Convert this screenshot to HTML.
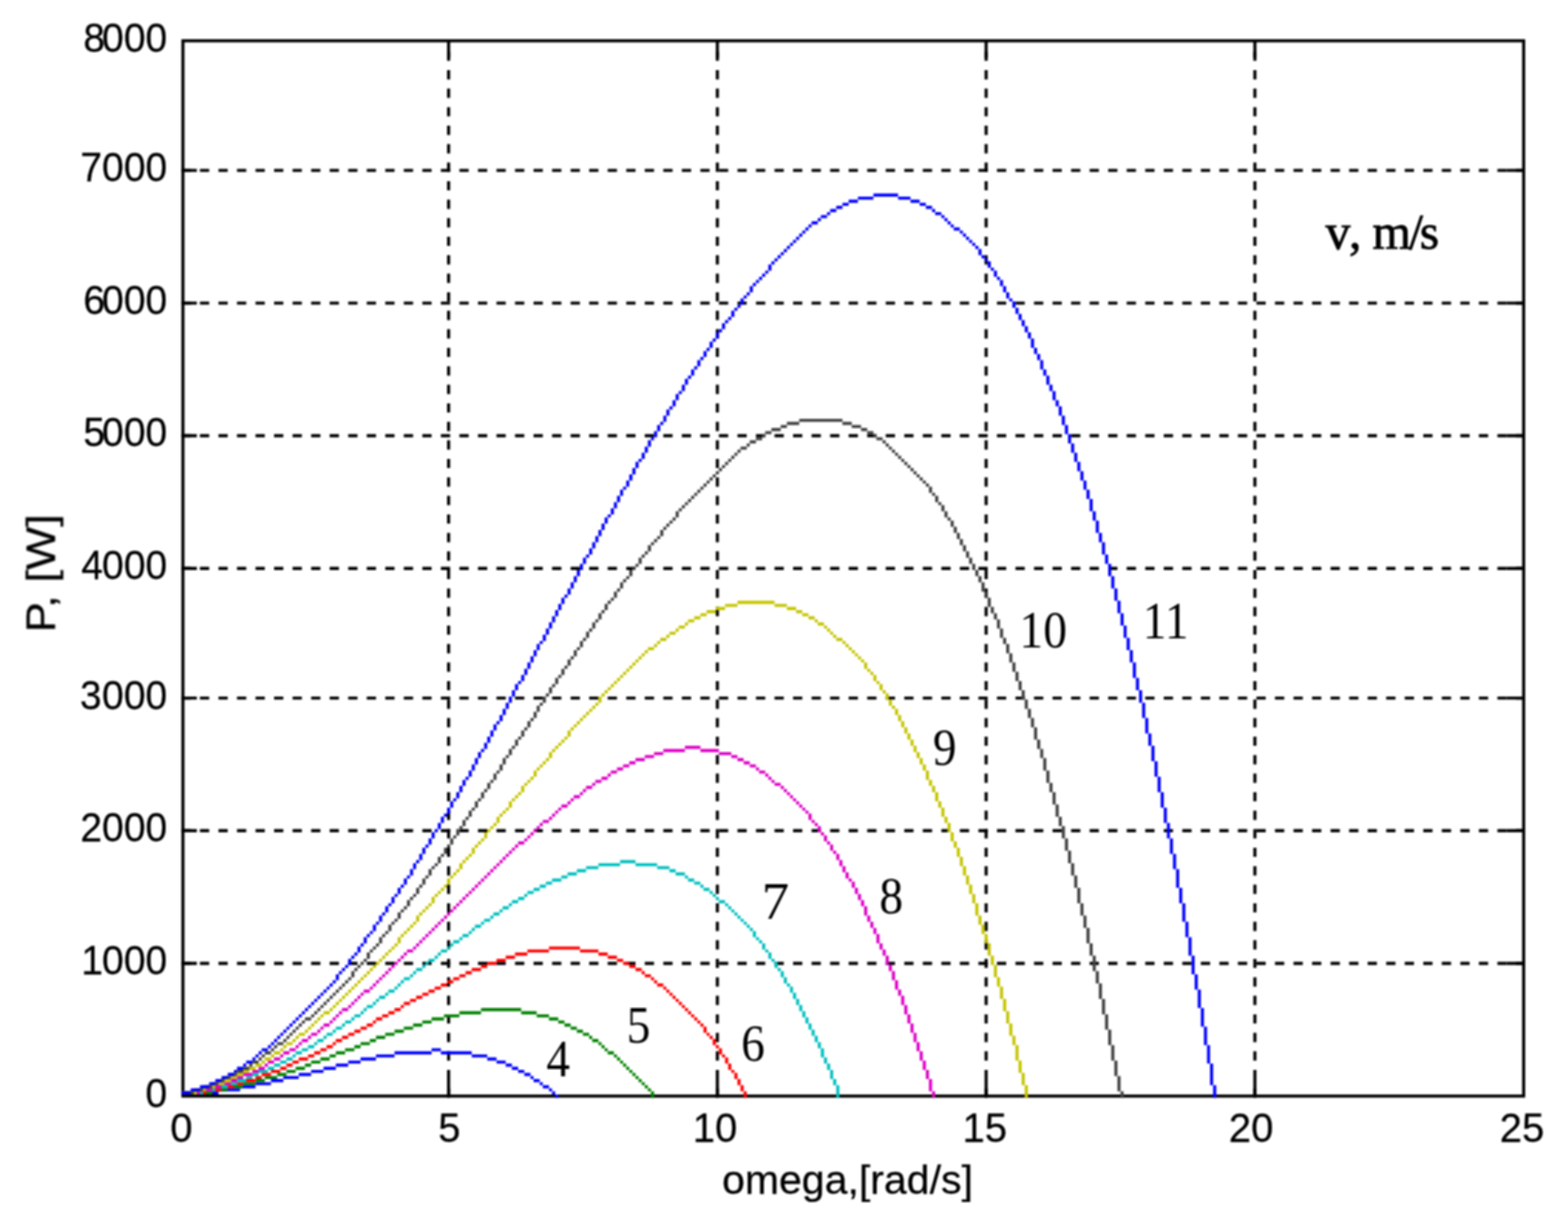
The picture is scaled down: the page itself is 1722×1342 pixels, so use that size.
<!DOCTYPE html>
<html lang="en"><head><meta charset="utf-8"><title>P(omega) curves</title>
<style>html,body{margin:0;padding:0;background:#fff}body{width:1722px;height:1342px;overflow:hidden}svg{display:block}.s{font-family:"Liberation Sans",Arial,Helvetica,sans-serif;font-size:44px;fill:#000;stroke:#000;stroke-width:0.3px}.r{font-family:"Liberation Serif","Times New Roman",serif;font-size:56px;fill:#000;stroke:#000;stroke-width:0px}</style></head><body>
<svg width="1722" height="1342" viewBox="0 0 1722 1342" role="img" aria-label="Wind turbine power P versus rotor speed omega for wind speeds v = 4 to 11 m/s">
<defs><filter id="b" x="0" y="0" width="1722" height="1342" filterUnits="userSpaceOnUse" color-interpolation-filters="sRGB"><feConvolveMatrix order="5" kernelMatrix="0.01 0.1 0.1 0.1 0.01 0.1 1 1 1 0.1 0.1 1 1 1 0.1 0.1 1 1 1 0.1 0.01 0.1 0.1 0.1 0.01" divisor="10.24" edgeMode="none" preserveAlpha="false"/></filter><filter id="bt" x="0" y="0" width="1722" height="1342" filterUnits="userSpaceOnUse" color-interpolation-filters="sRGB"><feConvolveMatrix order="5" kernelMatrix="0.01 0.1 0.1 0.1 0.01 0.1 1 1 1 0.1 0.1 1 1 1 0.1 0.1 1 1 1 0.1 0.01 0.1 0.1 0.1 0.01" divisor="10.24" edgeMode="none" preserveAlpha="false"/></filter></defs>
<rect width="1722" height="1342" fill="#fff"/>
<g filter="url(#b)">
<g stroke="#000" stroke-width="3.39" fill="none">
<g stroke-dasharray="10.166 10.166">
<path d="M492.67 1205.39V44.80"/>
<path d="M787.82 1205.39V44.80"/>
<path d="M1082.98 1205.39V44.80"/>
<path d="M1378.14 1205.39V44.80"/>
</g><g stroke-dasharray="10.178 10.178">
<path d="M199.20 1057.99H1673.30"/>
<path d="M199.20 912.28H1673.30"/>
<path d="M199.20 766.57H1673.30"/>
<path d="M199.20 624.25H1673.30"/>
<path d="M199.20 478.54H1673.30"/>
<path d="M199.20 332.83H1673.30"/>
<path d="M199.20 187.12H1673.30"/>
</g></g>
<g stroke="#000" stroke-width="3.39" fill="none">
<path d="M492.67 1203.70v-18.64M492.67 44.80v18.64M787.82 1203.70v-18.64M787.82 44.80v18.64M1082.98 1203.70v-18.64M1082.98 44.80v18.64M1378.14 1203.70v-18.64M1378.14 44.80v18.64M200.90 1057.99h15.27M1673.30 1057.99h-18.66M200.90 912.28h15.27M1673.30 912.28h-18.66M200.90 766.57h15.27M1673.30 766.57h-18.66M200.90 624.25h15.27M1673.30 624.25h-18.66M200.90 478.54h15.27M1673.30 478.54h-18.66M200.90 332.83h15.27M1673.30 332.83h-18.66M200.90 187.12h15.27M1673.30 187.12h-18.66"/>
<rect x="200.90" y="44.80" width="1472.40" height="1158.90"/>
</g>
<path fill="#0000ff" d="M199.2 1198.6H239.9V1202.0H199.2zM239.9 1195.2H263.7V1198.6H239.9zM263.7 1191.8H280.6V1195.2H263.7zM280.6 1188.5H297.6V1191.8H280.6zM297.6 1185.1H311.2V1188.5H297.6zM311.2 1181.7H328.1V1185.1H311.2zM328.1 1178.3H341.7V1181.7H328.1zM341.7 1174.9H355.3V1178.3H341.7zM355.3 1171.5H368.8V1174.9H355.3zM368.8 1168.1H382.4V1171.5H368.8zM382.4 1164.7H396.0V1168.1H382.4zM396.0 1161.3H412.9V1164.7H396.0zM412.9 1158.0H433.3V1161.3H412.9zM433.3 1154.6H474.0V1158.0H433.3zM474.0 1151.2H484.2V1154.6H474.0zM484.2 1154.6H518.1V1158.0H484.2zM518.1 1158.0H535.1V1161.3H518.1zM535.1 1161.3H545.3V1164.7H535.1zM545.3 1164.7H555.4V1168.1H545.3zM555.4 1168.1H562.2V1171.5H555.4zM562.2 1171.5H569.0V1174.9H562.2zM569.0 1174.9H575.8V1178.3H569.0zM575.8 1178.3H582.6V1181.7H575.8zM582.6 1181.7H586.0V1185.1H582.6zM586.0 1185.1H592.7V1188.5H586.0zM592.7 1188.5H596.1V1191.8H592.7zM596.1 1191.8H602.9V1195.2H596.1zM602.9 1195.2H606.3V1198.6H602.9zM606.3 1198.6H609.7V1202.0H606.3zM609.7 1202.0H613.1V1205.4H609.7z"/>
<path fill="#008000" d="M199.2 1198.6H233.1V1202.0H199.2zM233.1 1195.2H250.1V1198.6H233.1zM250.1 1191.8H267.1V1195.2H250.1zM267.1 1188.5H280.6V1191.8H267.1zM280.6 1185.1H290.8V1188.5H280.6zM290.8 1181.7H304.4V1185.1H290.8zM304.4 1178.3H314.6V1181.7H304.4zM314.6 1174.9H324.7V1178.3H314.6zM324.7 1171.5H334.9V1174.9H324.7zM334.9 1168.1H341.7V1171.5H334.9zM341.7 1164.7H351.9V1168.1H341.7zM351.9 1161.3H362.0V1164.7H351.9zM362.0 1158.0H368.8V1161.3H362.0zM368.8 1154.6H379.0V1158.0H368.8zM379.0 1151.2H389.2V1154.6H379.0zM389.2 1147.8H396.0V1151.2H389.2zM396.0 1144.4H406.2V1147.8H396.0zM406.2 1141.0H412.9V1144.4H406.2zM412.9 1137.6H423.1V1141.0H412.9zM423.1 1134.2H433.3V1137.6H423.1zM433.3 1130.8H443.5V1134.2H433.3zM443.5 1127.5H453.7V1130.8H443.5zM453.7 1124.1H463.8V1127.5H453.7zM463.8 1120.7H474.0V1124.1H463.8zM474.0 1117.3H487.6V1120.7H474.0zM487.6 1113.9H504.5V1117.3H487.6zM504.5 1110.5H528.3V1113.9H504.5zM528.3 1107.1H572.4V1110.5H528.3zM572.4 1110.5H589.4V1113.9H572.4zM589.4 1113.9H602.9V1117.3H589.4zM602.9 1117.3H613.1V1120.7H602.9zM613.1 1120.7H619.9V1124.1H613.1zM619.9 1124.1H626.7V1127.5H619.9zM626.7 1127.5H633.5V1130.8H626.7zM633.5 1130.8H640.2V1134.2H633.5zM640.2 1134.2H647.0V1137.6H640.2zM647.0 1137.6H650.4V1141.0H647.0zM650.4 1141.0H657.2V1144.4H650.4zM657.2 1144.4H660.6V1147.8H657.2zM660.6 1147.8H664.0V1151.2H660.6zM664.0 1151.2H667.4V1154.6H664.0zM667.4 1154.6H674.2V1158.0H667.4zM674.2 1158.0H677.6V1161.3H674.2zM677.6 1161.3H681.0V1164.7H677.6zM681.0 1164.7H684.3V1168.1H681.0zM684.3 1168.1H687.7V1171.5H684.3zM687.7 1171.5H691.1V1174.9H687.7zM691.1 1174.9H694.5V1178.3H691.1zM694.5 1178.3H697.9V1181.7H694.5zM697.9 1181.7H701.3V1185.1H697.9zM701.3 1185.1H704.7V1188.5H701.3zM704.7 1188.5H708.1V1191.8H704.7zM708.1 1191.8H711.5V1195.2H708.1zM711.5 1195.2H714.9V1198.6H711.5zM714.9 1198.6H718.3V1205.4H714.9z"/>
<path fill="#ff0000" d="M199.2 1198.6H226.3V1202.0H199.2zM226.3 1195.2H243.3V1198.6H226.3zM243.3 1191.8H256.9V1195.2H243.3zM256.9 1188.5H267.1V1191.8H256.9zM267.1 1185.1H280.6V1188.5H267.1zM280.6 1181.7H287.4V1185.1H280.6zM287.4 1178.3H297.6V1181.7H287.4zM297.6 1174.9H307.8V1178.3H297.6zM307.8 1171.5H314.6V1174.9H307.8zM314.6 1168.1H321.3V1171.5H314.6zM321.3 1164.7H328.1V1168.1H321.3zM328.1 1161.3H338.3V1164.7H328.1zM338.3 1158.0H345.1V1161.3H338.3zM345.1 1154.6H351.9V1158.0H345.1zM351.9 1151.2H358.7V1154.6H351.9zM358.7 1147.8H365.4V1151.2H358.7zM365.4 1144.4H368.8V1147.8H365.4zM368.8 1141.0H375.6V1144.4H368.8zM375.6 1137.6H382.4V1141.0H375.6zM382.4 1134.2H389.2V1137.6H382.4zM389.2 1130.8H396.0V1134.2H389.2zM396.0 1127.5H402.8V1130.8H396.0zM402.8 1124.1H409.5V1127.5H402.8zM409.5 1120.7H412.9V1124.1H409.5zM412.9 1117.3H419.7V1120.7H412.9zM419.7 1113.9H426.5V1117.3H419.7zM426.5 1110.5H433.3V1113.9H426.5zM433.3 1107.1H440.1V1110.5H433.3zM440.1 1103.7H443.5V1107.1H440.1zM443.5 1100.3H450.3V1103.7H443.5zM450.3 1097.0H457.0V1100.3H450.3zM457.0 1093.6H463.8V1097.0H457.0zM463.8 1090.2H470.6V1093.6H463.8zM470.6 1086.8H477.4V1090.2H470.6zM477.4 1083.4H484.2V1086.8H477.4zM484.2 1080.0H491.0V1083.4H484.2zM491.0 1076.6H497.8V1080.0H491.0zM497.8 1073.2H504.5V1076.6H497.8zM504.5 1069.9H511.3V1073.2H504.5zM511.3 1066.5H518.1V1069.9H511.3zM518.1 1063.1H528.3V1066.5H518.1zM528.3 1059.7H535.1V1063.1H528.3zM535.1 1056.3H545.3V1059.7H535.1zM545.3 1052.9H555.4V1056.3H545.3zM555.4 1049.5H565.6V1052.9H555.4zM565.6 1046.1H579.2V1049.5H565.6zM579.2 1042.7H602.9V1046.1H579.2zM602.9 1039.4H636.9V1042.7H602.9zM636.9 1042.7H657.2V1046.1H636.9zM657.2 1046.1H667.4V1049.5H657.2zM667.4 1049.5H677.6V1052.9H667.4zM677.6 1052.9H684.3V1056.3H677.6zM684.3 1056.3H691.1V1059.7H684.3zM691.1 1059.7H697.9V1063.1H691.1zM697.9 1063.1H704.7V1066.5H697.9zM704.7 1066.5H708.1V1069.9H704.7zM708.1 1069.9H714.9V1073.2H708.1zM714.9 1073.2H718.3V1076.6H714.9zM718.3 1076.6H721.7V1080.0H718.3zM721.7 1080.0H728.5V1083.4H721.7zM728.5 1083.4H731.8V1086.8H728.5zM731.8 1086.8H735.2V1090.2H731.8zM735.2 1090.2H738.6V1093.6H735.2zM738.6 1093.6H742.0V1097.0H738.6zM742.0 1097.0H745.4V1100.3H742.0zM745.4 1100.3H748.8V1103.7H745.4zM748.8 1103.7H752.2V1107.1H748.8zM752.2 1107.1H755.6V1110.5H752.2zM755.6 1110.5H759.0V1113.9H755.6zM759.0 1113.9H762.4V1117.3H759.0zM762.4 1117.3H765.8V1120.7H762.4zM765.8 1120.7H769.2V1124.1H765.8zM769.2 1124.1H772.6V1127.5H769.2zM772.6 1127.5H776.0V1134.2H772.6zM776.0 1134.2H779.3V1137.6H776.0zM779.3 1137.6H782.7V1141.0H779.3zM782.7 1141.0H786.1V1147.8H782.7zM786.1 1147.8H789.5V1151.2H786.1zM789.5 1151.2H792.9V1158.0H789.5zM792.9 1158.0H796.3V1161.3H792.9zM796.3 1161.3H799.7V1168.1H796.3zM799.7 1168.1H803.1V1174.9H799.7zM803.1 1174.9H806.5V1178.3H803.1zM806.5 1178.3H809.9V1185.1H806.5zM809.9 1185.1H813.3V1191.8H809.9zM813.3 1191.8H816.7V1198.6H813.3zM816.7 1198.6H820.1V1205.4H816.7z"/>
<path fill="#00bfbf" d="M199.2 1198.6H223.0V1202.0H199.2zM223.0 1195.2H236.5V1198.6H223.0zM236.5 1191.8H250.1V1195.2H236.5zM250.1 1188.5H260.3V1191.8H250.1zM260.3 1185.1H270.4V1188.5H260.3zM270.4 1181.7H277.2V1185.1H270.4zM277.2 1178.3H284.0V1181.7H277.2zM284.0 1174.9H294.2V1178.3H284.0zM294.2 1171.5H301.0V1174.9H294.2zM301.0 1168.1H307.8V1171.5H301.0zM307.8 1164.7H314.6V1168.1H307.8zM314.6 1161.3H321.3V1164.7H314.6zM321.3 1158.0H324.7V1161.3H321.3zM324.7 1154.6H331.5V1158.0H324.7zM331.5 1151.2H338.3V1154.6H331.5zM338.3 1147.8H345.1V1151.2H338.3zM345.1 1144.4H348.5V1147.8H345.1zM348.5 1141.0H355.3V1144.4H348.5zM355.3 1137.6H358.7V1141.0H355.3zM358.7 1134.2H365.4V1137.6H358.7zM365.4 1130.8H368.8V1134.2H365.4zM368.8 1127.5H375.6V1130.8H368.8zM375.6 1124.1H379.0V1127.5H375.6zM379.0 1120.7H385.8V1124.1H379.0zM385.8 1117.3H389.2V1120.7H385.8zM389.2 1113.9H396.0V1117.3H389.2zM396.0 1110.5H399.4V1113.9H396.0zM399.4 1107.1H402.8V1110.5H399.4zM402.8 1103.7H409.5V1107.1H402.8zM409.5 1100.3H412.9V1103.7H409.5zM412.9 1097.0H416.3V1100.3H412.9zM416.3 1093.6H423.1V1097.0H416.3zM423.1 1090.2H426.5V1093.6H423.1zM426.5 1086.8H433.3V1090.2H426.5zM433.3 1083.4H436.7V1086.8H433.3zM436.7 1080.0H440.1V1083.4H436.7zM440.1 1076.6H443.5V1080.0H440.1zM443.5 1073.2H450.3V1076.6H443.5zM450.3 1069.9H453.7V1073.2H450.3zM453.7 1066.5H457.0V1069.9H453.7zM457.0 1063.1H463.8V1066.5H457.0zM463.8 1059.7H467.2V1063.1H463.8zM467.2 1056.3H470.6V1059.7H467.2zM470.6 1052.9H477.4V1056.3H470.6zM477.4 1049.5H480.8V1052.9H477.4zM480.8 1046.1H484.2V1049.5H480.8zM484.2 1042.7H491.0V1046.1H484.2zM491.0 1039.4H494.4V1042.7H491.0zM494.4 1036.0H497.8V1039.4H494.4zM497.8 1032.6H504.5V1036.0H497.8zM504.5 1029.2H507.9V1032.6H504.5zM507.9 1025.8H514.7V1029.2H507.9zM514.7 1022.4H518.1V1025.8H514.7zM518.1 1019.0H521.5V1022.4H518.1zM521.5 1015.6H528.3V1019.0H521.5zM528.3 1012.2H531.7V1015.6H528.3zM531.7 1008.9H538.5V1012.2H531.7zM538.5 1005.5H541.9V1008.9H538.5zM541.9 1002.1H548.6V1005.5H541.9zM548.6 998.7H552.0V1002.1H548.6zM552.0 995.3H558.8V998.7H552.0zM558.8 991.9H562.2V995.3H558.8zM562.2 988.5H569.0V991.9H562.2zM569.0 985.1H575.8V988.5H569.0zM575.8 981.7H579.2V985.1H575.8zM579.2 978.4H586.0V981.7H579.2zM586.0 975.0H592.7V978.4H586.0zM592.7 971.6H599.5V975.0H592.7zM599.5 968.2H606.3V971.6H599.5zM606.3 964.8H616.5V968.2H606.3zM616.5 961.4H623.3V964.8H616.5zM623.3 958.0H633.5V961.4H623.3zM633.5 954.6H643.6V958.0H633.5zM643.6 951.2H657.2V954.6H643.6zM657.2 947.9H681.0V951.2H657.2zM681.0 944.5H697.9V947.9H681.0zM697.9 947.9H721.7V951.2H697.9zM721.7 951.2H735.2V954.6H721.7zM735.2 954.6H742.0V958.0H735.2zM742.0 958.0H752.2V961.4H742.0zM752.2 961.4H755.6V964.8H752.2zM755.6 964.8H762.4V968.2H755.6zM762.4 968.2H769.2V971.6H762.4zM769.2 971.6H772.6V975.0H769.2zM772.6 975.0H779.3V978.4H772.6zM779.3 978.4H782.7V981.7H779.3zM782.7 981.7H786.1V985.1H782.7zM786.1 985.1H789.5V988.5H786.1zM789.5 988.5H796.3V991.9H789.5zM796.3 991.9H799.7V995.3H796.3zM799.7 995.3H803.1V998.7H799.7zM803.1 998.7H806.5V1002.1H803.1zM806.5 1002.1H809.9V1005.5H806.5zM809.9 1005.5H813.3V1008.9H809.9zM813.3 1008.9H816.7V1012.2H813.3zM816.7 1012.2H820.1V1015.6H816.7zM820.1 1015.6H823.4V1019.0H820.1zM823.4 1019.0H826.8V1022.4H823.4zM826.8 1022.4H830.2V1029.2H826.8zM830.2 1029.2H833.6V1032.6H830.2zM833.6 1032.6H837.0V1036.0H833.6zM837.0 1036.0H840.4V1042.7H837.0zM840.4 1042.7H843.8V1046.1H840.4zM843.8 1046.1H847.2V1052.9H843.8zM847.2 1052.9H850.6V1056.3H847.2zM850.6 1056.3H854.0V1063.1H850.6zM854.0 1063.1H857.4V1066.5H854.0zM857.4 1066.5H860.8V1073.2H857.4zM860.8 1073.2H864.2V1080.0H860.8zM864.2 1080.0H867.6V1083.4H864.2zM867.6 1083.4H870.9V1090.2H867.6zM870.9 1090.2H874.3V1097.0H870.9zM874.3 1097.0H877.7V1103.7H874.3zM877.7 1103.7H881.1V1110.5H877.7zM881.1 1110.5H884.5V1117.3H881.1zM884.5 1117.3H887.9V1124.1H884.5zM887.9 1124.1H891.3V1130.8H887.9zM891.3 1130.8H894.7V1137.6H891.3zM894.7 1137.6H898.1V1144.4H894.7zM898.1 1144.4H901.5V1151.2H898.1zM901.5 1151.2H904.9V1161.3H901.5zM904.9 1161.3H908.3V1168.1H904.9zM908.3 1168.1H911.7V1174.9H908.3zM911.7 1174.9H915.0V1185.1H911.7zM915.0 1185.1H918.4V1191.8H915.0zM918.4 1191.8H921.8V1205.4H918.4z"/>
<path fill="#dd00c6" d="M199.2 1198.6H219.6V1202.0H199.2zM219.6 1195.2H233.1V1198.6H219.6zM233.1 1191.8H243.3V1195.2H233.1zM243.3 1188.5H253.5V1191.8H243.3zM253.5 1185.1H260.3V1188.5H253.5zM260.3 1181.7H267.1V1185.1H260.3zM267.1 1178.3H277.2V1181.7H267.1zM277.2 1174.9H284.0V1178.3H277.2zM284.0 1171.5H290.8V1174.9H284.0zM290.8 1168.1H294.2V1171.5H290.8zM294.2 1164.7H301.0V1168.1H294.2zM301.0 1161.3H307.8V1164.7H301.0zM307.8 1158.0H311.2V1161.3H307.8zM311.2 1154.6H317.9V1158.0H311.2zM317.9 1151.2H324.7V1154.6H317.9zM324.7 1147.8H328.1V1151.2H324.7zM328.1 1144.4H331.5V1147.8H328.1zM331.5 1141.0H338.3V1144.4H331.5zM338.3 1137.6H341.7V1141.0H338.3zM341.7 1134.2H348.5V1137.6H341.7zM348.5 1130.8H351.9V1134.2H348.5zM351.9 1127.5H355.3V1130.8H351.9zM355.3 1124.1H362.0V1127.5H355.3zM362.0 1120.7H365.4V1124.1H362.0zM365.4 1117.3H368.8V1120.7H365.4zM368.8 1113.9H372.2V1117.3H368.8zM372.2 1110.5H375.6V1113.9H372.2zM375.6 1107.1H382.4V1110.5H375.6zM382.4 1103.7H385.8V1107.1H382.4zM385.8 1100.3H389.2V1103.7H385.8zM389.2 1097.0H392.6V1100.3H389.2zM392.6 1093.6H396.0V1097.0H392.6zM396.0 1090.2H399.4V1093.6H396.0zM399.4 1086.8H406.2V1090.2H399.4zM406.2 1083.4H409.5V1086.8H406.2zM409.5 1080.0H412.9V1083.4H409.5zM412.9 1076.6H416.3V1080.0H412.9zM416.3 1073.2H419.7V1076.6H416.3zM419.7 1069.9H423.1V1073.2H419.7zM423.1 1066.5H426.5V1069.9H423.1zM426.5 1063.1H429.9V1066.5H426.5zM429.9 1059.7H433.3V1063.1H429.9zM433.3 1056.3H436.7V1059.7H433.3zM436.7 1052.9H440.1V1056.3H436.7zM440.1 1049.5H443.5V1052.9H440.1zM443.5 1046.1H446.9V1049.5H443.5zM446.9 1042.7H453.7V1046.1H446.9zM453.7 1039.4H457.0V1042.7H453.7zM457.0 1036.0H460.4V1039.4H457.0zM460.4 1032.6H463.8V1036.0H460.4zM463.8 1029.2H467.2V1032.6H463.8zM467.2 1025.8H470.6V1029.2H467.2zM470.6 1022.4H474.0V1025.8H470.6zM474.0 1019.0H477.4V1022.4H474.0zM477.4 1015.6H480.8V1019.0H477.4zM480.8 1012.2H484.2V1015.6H480.8zM484.2 1008.9H487.6V1012.2H484.2zM487.6 1005.5H491.0V1008.9H487.6zM491.0 1002.1H494.4V1005.5H491.0zM494.4 998.7H497.8V1002.1H494.4zM497.8 995.3H501.1V998.7H497.8zM501.1 991.9H504.5V995.3H501.1zM504.5 988.5H507.9V991.9H504.5zM507.9 985.1H511.3V988.5H507.9zM511.3 981.7H514.7V985.1H511.3zM514.7 978.4H518.1V981.7H514.7zM518.1 975.0H521.5V978.4H518.1zM521.5 971.6H524.9V975.0H521.5zM524.9 968.2H528.3V971.6H524.9zM528.3 964.8H531.7V968.2H528.3zM531.7 961.4H535.1V964.8H531.7zM535.1 958.0H538.5V961.4H535.1zM538.5 954.6H541.9V958.0H538.5zM541.9 951.2H545.3V954.6H541.9zM545.3 947.9H548.6V951.2H545.3zM548.6 944.5H552.0V947.9H548.6zM552.0 941.1H555.4V944.5H552.0zM555.4 937.7H558.8V941.1H555.4zM558.8 934.3H562.2V937.7H558.8zM562.2 930.9H565.6V934.3H562.2zM565.6 927.5H569.0V930.9H565.6zM569.0 924.1H575.8V927.5H569.0zM575.8 920.8H579.2V924.1H575.8zM579.2 917.4H582.6V920.8H579.2zM582.6 914.0H586.0V917.4H582.6zM586.0 910.6H589.4V914.0H586.0zM589.4 907.2H592.7V910.6H589.4zM592.7 903.8H596.1V907.2H592.7zM596.1 900.4H602.9V903.8H596.1zM602.9 897.0H606.3V900.4H602.9zM606.3 893.6H609.7V897.0H606.3zM609.7 890.3H613.1V893.6H609.7zM613.1 886.9H616.5V890.3H613.1zM616.5 883.5H623.3V886.9H616.5zM623.3 880.1H626.7V883.5H623.3zM626.7 876.7H630.1V880.1H626.7zM630.1 873.3H636.9V876.7H630.1zM636.9 869.9H640.2V873.3H636.9zM640.2 866.5H643.6V869.9H640.2zM643.6 863.1H650.4V866.5H643.6zM650.4 859.8H653.8V863.1H650.4zM653.8 856.4H660.6V859.8H653.8zM660.6 853.0H667.4V856.4H660.6zM667.4 849.6H670.8V853.0H667.4zM670.8 846.2H677.6V849.6H670.8zM677.6 842.8H684.3V846.2H677.6zM684.3 839.4H691.1V842.8H684.3zM691.1 836.0H697.9V839.4H691.1zM697.9 832.6H708.1V836.0H697.9zM708.1 829.3H718.3V832.6H708.1zM718.3 825.9H728.5V829.3H718.3zM728.5 822.5H752.2V825.9H728.5zM752.2 819.1H769.2V822.5H752.2zM769.2 822.5H789.5V825.9H769.2zM789.5 825.9H803.1V829.3H789.5zM803.1 829.3H809.9V832.6H803.1zM809.9 832.6H816.7V836.0H809.9zM816.7 836.0H823.4V839.4H816.7zM823.4 839.4H830.2V842.8H823.4zM830.2 842.8H833.6V846.2H830.2zM833.6 846.2H840.4V849.6H833.6zM840.4 849.6H843.8V853.0H840.4zM843.8 853.0H847.2V856.4H843.8zM847.2 856.4H850.6V859.8H847.2zM850.6 859.8H857.4V863.1H850.6zM857.4 863.1H860.8V866.5H857.4zM860.8 866.5H864.2V869.9H860.8zM864.2 869.9H867.6V873.3H864.2zM867.6 873.3H870.9V876.7H867.6zM870.9 876.7H874.3V880.1H870.9zM874.3 880.1H877.7V883.5H874.3zM877.7 883.5H881.1V886.9H877.7zM881.1 886.9H884.5V890.3H881.1zM884.5 890.3H887.9V893.6H884.5zM887.9 893.6H891.3V900.4H887.9zM891.3 900.4H894.7V903.8H891.3zM894.7 903.8H898.1V907.2H894.7zM898.1 907.2H901.5V914.0H898.1zM901.5 914.0H904.9V917.4H901.5zM904.9 917.4H908.3V924.1H904.9zM908.3 924.1H911.7V927.5H908.3zM911.7 927.5H915.0V934.3H911.7zM915.0 934.3H918.4V937.7H915.0zM918.4 937.7H921.8V944.5H918.4zM921.8 944.5H925.2V951.2H921.8zM925.2 951.2H928.6V958.0H925.2zM928.6 958.0H932.0V964.8H928.6zM932.0 964.8H935.4V968.2H932.0zM935.4 968.2H938.8V975.0H935.4zM938.8 975.0H942.2V981.7H938.8zM942.2 981.7H945.6V988.5H942.2zM945.6 988.5H949.0V995.3H945.6zM949.0 995.3H952.4V1005.5H949.0zM952.4 1005.5H955.8V1012.2H952.4zM955.8 1012.2H959.2V1019.0H955.8zM959.2 1019.0H962.5V1025.8H959.2zM962.5 1025.8H965.9V1036.0H962.5zM965.9 1036.0H969.3V1042.7H965.9zM969.3 1042.7H972.7V1049.5H969.3zM972.7 1049.5H976.1V1059.7H972.7zM976.1 1059.7H979.5V1066.5H976.1zM979.5 1066.5H982.9V1076.6H979.5zM982.9 1076.6H986.3V1086.8H982.9zM986.3 1086.8H989.7V1093.6H986.3zM989.7 1093.6H993.1V1103.7H989.7zM993.1 1103.7H996.5V1113.9H993.1zM996.5 1113.9H999.9V1124.1H996.5zM999.9 1124.1H1003.3V1134.2H999.9zM1003.3 1134.2H1006.6V1144.4H1003.3zM1006.6 1144.4H1010.0V1154.6H1006.6zM1010.0 1154.6H1013.4V1164.7H1010.0zM1013.4 1164.7H1016.8V1174.9H1013.4zM1016.8 1174.9H1020.2V1185.1H1016.8zM1020.2 1185.1H1023.6V1198.6H1020.2zM1023.6 1198.6H1027.0V1205.4H1023.6z"/>
<path fill="#c4c400" d="M199.2 1198.6H216.2V1202.0H199.2zM216.2 1195.2H226.3V1198.6H216.2zM226.3 1191.8H236.5V1195.2H226.3zM236.5 1188.5H246.7V1191.8H236.5zM246.7 1185.1H253.5V1188.5H246.7zM253.5 1181.7H260.3V1185.1H253.5zM260.3 1178.3H267.1V1181.7H260.3zM267.1 1174.9H273.8V1178.3H267.1zM273.8 1171.5H280.6V1174.9H273.8zM280.6 1168.1H287.4V1171.5H280.6zM287.4 1164.7H290.8V1168.1H287.4zM290.8 1161.3H297.6V1164.7H290.8zM297.6 1158.0H301.0V1161.3H297.6zM301.0 1154.6H307.8V1158.0H301.0zM307.8 1151.2H311.2V1154.6H307.8zM311.2 1147.8H314.6V1151.2H311.2zM314.6 1144.4H321.3V1147.8H314.6zM321.3 1141.0H324.7V1144.4H321.3zM324.7 1137.6H328.1V1141.0H324.7zM328.1 1134.2H334.9V1137.6H328.1zM334.9 1130.8H338.3V1134.2H334.9zM338.3 1127.5H341.7V1130.8H338.3zM341.7 1124.1H345.1V1127.5H341.7zM345.1 1120.7H348.5V1124.1H345.1zM348.5 1117.3H351.9V1120.7H348.5zM351.9 1113.9H355.3V1117.3H351.9zM355.3 1110.5H362.0V1113.9H355.3zM362.0 1107.1H365.4V1110.5H362.0zM365.4 1103.7H368.8V1107.1H365.4zM368.8 1100.3H372.2V1103.7H368.8zM372.2 1097.0H375.6V1100.3H372.2zM375.6 1093.6H379.0V1097.0H375.6zM379.0 1090.2H382.4V1093.6H379.0zM382.4 1086.8H385.8V1090.2H382.4zM385.8 1083.4H389.2V1086.8H385.8zM389.2 1080.0H392.6V1083.4H389.2zM392.6 1076.6H396.0V1080.0H392.6zM396.0 1073.2H399.4V1076.6H396.0zM399.4 1069.9H402.8V1073.2H399.4zM402.8 1066.5H406.2V1069.9H402.8zM406.2 1063.1H409.5V1066.5H406.2zM409.5 1059.7H412.9V1063.1H409.5zM412.9 1056.3H416.3V1059.7H412.9zM416.3 1052.9H419.7V1056.3H416.3zM419.7 1049.5H423.1V1052.9H419.7zM423.1 1046.1H426.5V1049.5H423.1zM426.5 1042.7H429.9V1046.1H426.5zM429.9 1039.4H433.3V1042.7H429.9zM433.3 1036.0H436.7V1039.4H433.3zM436.7 1029.2H440.1V1036.0H436.7zM440.1 1025.8H443.5V1029.2H440.1zM443.5 1022.4H446.9V1025.8H443.5zM446.9 1019.0H450.3V1022.4H446.9zM450.3 1015.6H453.7V1019.0H450.3zM453.7 1012.2H457.0V1015.6H453.7zM457.0 1005.5H460.4V1012.2H457.0zM460.4 1002.1H463.8V1005.5H460.4zM463.8 998.7H467.2V1002.1H463.8zM467.2 995.3H470.6V998.7H467.2zM470.6 991.9H474.0V995.3H470.6zM474.0 985.1H477.4V991.9H474.0zM477.4 981.7H480.8V985.1H477.4zM480.8 978.4H484.2V981.7H480.8zM484.2 975.0H487.6V978.4H484.2zM487.6 971.6H491.0V975.0H487.6zM491.0 964.8H494.4V971.6H491.0zM494.4 961.4H497.8V964.8H494.4zM497.8 958.0H501.1V961.4H497.8zM501.1 954.6H504.5V958.0H501.1zM504.5 947.9H507.9V954.6H504.5zM507.9 944.5H511.3V947.9H507.9zM511.3 941.1H514.7V944.5H511.3zM514.7 937.7H518.1V941.1H514.7zM518.1 930.9H521.5V937.7H518.1zM521.5 927.5H524.9V930.9H521.5zM524.9 924.1H528.3V927.5H524.9zM528.3 920.8H531.7V924.1H528.3zM531.7 914.0H535.1V920.8H531.7zM535.1 910.6H538.5V914.0H535.1zM538.5 907.2H541.9V910.6H538.5zM541.9 903.8H545.3V907.2H541.9zM545.3 897.0H548.6V903.8H545.3zM548.6 893.6H552.0V897.0H548.6zM552.0 890.3H555.4V893.6H552.0zM555.4 886.9H558.8V890.3H555.4zM558.8 880.1H562.2V886.9H558.8zM562.2 876.7H565.6V880.1H562.2zM565.6 873.3H569.0V876.7H565.6zM569.0 869.9H572.4V873.3H569.0zM572.4 863.1H575.8V869.9H572.4zM575.8 859.8H579.2V863.1H575.8zM579.2 856.4H582.6V859.8H579.2zM582.6 853.0H586.0V856.4H582.6zM586.0 846.2H589.4V853.0H586.0zM589.4 842.8H592.7V846.2H589.4zM592.7 839.4H596.1V842.8H592.7zM596.1 836.0H599.5V839.4H596.1zM599.5 832.6H602.9V836.0H599.5zM602.9 825.9H606.3V832.6H602.9zM606.3 822.5H609.7V825.9H606.3zM609.7 819.1H613.1V822.5H609.7zM613.1 815.7H616.5V819.1H613.1zM616.5 812.3H619.9V815.7H616.5zM619.9 808.9H623.3V812.3H619.9zM623.3 802.2H626.7V808.9H623.3zM626.7 798.8H630.1V802.2H626.7zM630.1 795.4H633.5V798.8H630.1zM633.5 792.0H636.9V795.4H633.5zM636.9 788.6H640.2V792.0H636.9zM640.2 785.2H643.6V788.6H640.2zM643.6 781.8H647.0V785.2H643.6zM647.0 778.4H650.4V781.8H647.0zM650.4 775.0H653.8V778.4H650.4zM653.8 771.7H657.2V775.0H653.8zM657.2 764.9H660.6V771.7H657.2zM660.6 761.5H664.0V764.9H660.6zM664.0 758.1H667.4V761.5H664.0zM667.4 754.7H670.8V758.1H667.4zM670.8 751.3H674.2V754.7H670.8zM674.2 747.9H677.6V751.3H674.2zM677.6 744.5H681.0V747.9H677.6zM681.0 741.2H684.3V744.5H681.0zM684.3 737.8H687.7V741.2H684.3zM687.7 734.4H691.1V737.8H687.7zM691.1 731.0H694.5V734.4H691.1zM694.5 727.6H697.9V731.0H694.5zM697.9 724.2H701.3V727.6H697.9zM701.3 720.8H704.7V724.2H701.3zM704.7 717.4H708.1V720.8H704.7zM708.1 714.0H711.5V717.4H708.1zM711.5 710.7H718.3V714.0H711.5zM718.3 707.3H721.7V710.7H718.3zM721.7 703.9H725.1V707.3H721.7zM725.1 700.5H731.8V703.9H725.1zM731.8 697.1H735.2V700.5H731.8zM735.2 693.7H742.0V697.1H735.2zM742.0 690.3H745.4V693.7H742.0zM745.4 686.9H752.2V690.3H745.4zM752.2 683.6H755.6V686.9H752.2zM755.6 680.2H762.4V683.6H755.6zM762.4 676.8H769.2V680.2H762.4zM769.2 673.4H776.0V676.8H769.2zM776.0 670.0H786.1V673.4H776.0zM786.1 666.6H796.3V670.0H786.1zM796.3 663.2H809.9V666.6H796.3zM809.9 659.8H850.6V663.2H809.9zM850.6 663.2H864.2V666.6H850.6zM864.2 666.6H874.3V670.0H864.2zM874.3 670.0H881.1V673.4H874.3zM881.1 673.4H887.9V676.8H881.1zM887.9 676.8H894.7V680.2H887.9zM894.7 680.2H898.1V683.6H894.7zM898.1 683.6H904.9V686.9H898.1zM904.9 686.9H908.3V690.3H904.9zM908.3 690.3H911.7V693.7H908.3zM911.7 693.7H915.0V697.1H911.7zM915.0 697.1H918.4V700.5H915.0zM918.4 700.5H925.2V703.9H918.4zM925.2 703.9H928.6V707.3H925.2zM928.6 707.3H932.0V710.7H928.6zM932.0 710.7H935.4V714.0H932.0zM935.4 714.0H938.8V717.4H935.4zM938.8 717.4H942.2V720.8H938.8zM942.2 720.8H945.6V724.2H942.2zM945.6 724.2H949.0V727.6H945.6zM949.0 727.6H952.4V734.4H949.0zM952.4 734.4H955.8V737.8H952.4zM955.8 737.8H959.2V741.2H955.8zM959.2 741.2H962.5V747.9H959.2zM962.5 747.9H965.9V751.3H962.5zM965.9 751.3H969.3V758.1H965.9zM969.3 758.1H972.7V761.5H969.3zM972.7 761.5H976.1V768.3H972.7zM976.1 768.3H979.5V775.0H976.1zM979.5 775.0H982.9V778.4H979.5zM982.9 778.4H986.3V785.2H982.9zM986.3 785.2H989.7V792.0H986.3zM989.7 792.0H993.1V798.8H989.7zM993.1 798.8H996.5V805.5H993.1zM996.5 805.5H999.9V812.3H996.5zM999.9 812.3H1003.3V819.1H999.9zM1003.3 819.1H1006.6V825.9H1003.3zM1006.6 825.9H1010.0V832.6H1006.6zM1010.0 832.6H1013.4V839.4H1010.0zM1013.4 839.4H1016.8V846.2H1013.4zM1016.8 846.2H1020.2V856.4H1016.8zM1020.2 856.4H1023.6V863.1H1020.2zM1023.6 863.1H1027.0V869.9H1023.6zM1027.0 869.9H1030.4V880.1H1027.0zM1030.4 880.1H1033.8V886.9H1030.4zM1033.8 886.9H1037.2V897.0H1033.8zM1037.2 897.0H1040.6V903.8H1037.2zM1040.6 903.8H1044.0V914.0H1040.6zM1044.0 914.0H1047.4V924.1H1044.0zM1047.4 924.1H1050.8V930.9H1047.4zM1050.8 930.9H1054.1V941.1H1050.8zM1054.1 941.1H1057.5V951.2H1054.1zM1057.5 951.2H1060.9V961.4H1057.5zM1060.9 961.4H1064.3V971.6H1060.9zM1064.3 971.6H1067.7V981.7H1064.3zM1067.7 981.7H1071.1V991.9H1067.7zM1071.1 991.9H1074.5V1005.5H1071.1zM1074.5 1005.5H1077.9V1015.6H1074.5zM1077.9 1015.6H1081.3V1025.8H1077.9zM1081.3 1025.8H1084.7V1036.0H1081.3zM1084.7 1036.0H1088.1V1049.5H1084.7zM1088.1 1049.5H1091.5V1059.7H1088.1zM1091.5 1059.7H1094.9V1073.2H1091.5zM1094.9 1073.2H1098.2V1083.4H1094.9zM1098.2 1083.4H1101.6V1097.0H1098.2zM1101.6 1097.0H1105.0V1110.5H1101.6zM1105.0 1110.5H1108.4V1124.1H1105.0zM1108.4 1124.1H1111.8V1137.6H1108.4zM1111.8 1137.6H1115.2V1147.8H1111.8zM1115.2 1147.8H1118.6V1164.7H1115.2zM1118.6 1164.7H1122.0V1178.3H1118.6zM1122.0 1178.3H1125.4V1191.8H1122.0zM1125.4 1191.8H1128.8V1205.4H1125.4z"/>
<path fill="#404040" d="M199.2 1198.6H212.8V1202.0H199.2zM212.8 1195.2H223.0V1198.6H212.8zM223.0 1191.8H233.1V1195.2H223.0zM233.1 1188.5H239.9V1191.8H233.1zM239.9 1185.1H246.7V1188.5H239.9zM246.7 1181.7H253.5V1185.1H246.7zM253.5 1178.3H260.3V1181.7H253.5zM260.3 1174.9H267.1V1178.3H260.3zM267.1 1171.5H273.8V1174.9H267.1zM273.8 1168.1H277.2V1171.5H273.8zM277.2 1164.7H284.0V1168.1H277.2zM284.0 1161.3H287.4V1164.7H284.0zM287.4 1158.0H290.8V1161.3H287.4zM290.8 1154.6H297.6V1158.0H290.8zM297.6 1151.2H301.0V1154.6H297.6zM301.0 1147.8H304.4V1151.2H301.0zM304.4 1144.4H311.2V1147.8H304.4zM311.2 1141.0H314.6V1144.4H311.2zM314.6 1137.6H317.9V1141.0H314.6zM317.9 1134.2H321.3V1137.6H317.9zM321.3 1130.8H324.7V1134.2H321.3zM324.7 1127.5H328.1V1130.8H324.7zM328.1 1124.1H331.5V1127.5H328.1zM331.5 1120.7H334.9V1124.1H331.5zM334.9 1117.3H341.7V1120.7H334.9zM341.7 1113.9H345.1V1117.3H341.7zM345.1 1110.5H348.5V1113.9H345.1zM348.5 1107.1H351.9V1110.5H348.5zM351.9 1103.7H355.3V1107.1H351.9zM355.3 1100.3H358.7V1103.7H355.3zM358.7 1097.0H362.0V1100.3H358.7zM362.0 1093.6H365.4V1097.0H362.0zM365.4 1090.2H368.8V1093.6H365.4zM368.8 1086.8H372.2V1090.2H368.8zM372.2 1083.4H375.6V1086.8H372.2zM375.6 1080.0H379.0V1083.4H375.6zM379.0 1076.6H382.4V1080.0H379.0zM382.4 1073.2H385.8V1076.6H382.4zM385.8 1066.5H389.2V1073.2H385.8zM389.2 1063.1H392.6V1066.5H389.2zM392.6 1059.7H396.0V1063.1H392.6zM396.0 1056.3H399.4V1059.7H396.0zM399.4 1052.9H402.8V1056.3H399.4zM402.8 1046.1H406.2V1052.9H402.8zM406.2 1042.7H409.5V1046.1H406.2zM409.5 1039.4H412.9V1042.7H409.5zM412.9 1036.0H416.3V1039.4H412.9zM416.3 1029.2H419.7V1036.0H416.3zM419.7 1025.8H423.1V1029.2H419.7zM423.1 1022.4H426.5V1025.8H423.1zM426.5 1015.6H429.9V1022.4H426.5zM429.9 1012.2H433.3V1015.6H429.9zM433.3 1008.9H436.7V1012.2H433.3zM436.7 1002.1H440.1V1008.9H436.7zM440.1 998.7H443.5V1002.1H440.1zM443.5 995.3H446.9V998.7H443.5zM446.9 988.5H450.3V995.3H446.9zM450.3 985.1H453.7V988.5H450.3zM453.7 981.7H457.0V985.1H453.7zM457.0 975.0H460.4V981.7H457.0zM460.4 971.6H463.8V975.0H460.4zM463.8 964.8H467.2V971.6H463.8zM467.2 961.4H470.6V964.8H467.2zM470.6 954.6H474.0V961.4H470.6zM474.0 951.2H477.4V954.6H474.0zM477.4 947.9H480.8V951.2H477.4zM480.8 941.1H484.2V947.9H480.8zM484.2 937.7H487.6V941.1H484.2zM487.6 930.9H491.0V937.7H487.6zM491.0 927.5H494.4V930.9H491.0zM494.4 920.8H497.8V927.5H494.4zM497.8 917.4H501.1V920.8H497.8zM501.1 910.6H504.5V917.4H501.1zM504.5 907.2H507.9V910.6H504.5zM507.9 900.4H511.3V907.2H507.9zM511.3 897.0H514.7V900.4H511.3zM514.7 890.3H518.1V897.0H514.7zM518.1 886.9H521.5V890.3H518.1zM521.5 880.1H524.9V886.9H521.5zM524.9 876.7H528.3V880.1H524.9zM528.3 869.9H531.7V876.7H528.3zM531.7 866.5H535.1V869.9H531.7zM535.1 859.8H538.5V866.5H535.1zM538.5 856.4H541.9V859.8H538.5zM541.9 849.6H545.3V856.4H541.9zM545.3 846.2H548.6V849.6H545.3zM548.6 839.4H552.0V846.2H548.6zM552.0 832.6H555.4V839.4H552.0zM555.4 829.3H558.8V832.6H555.4zM558.8 822.5H562.2V829.3H558.8zM562.2 819.1H565.6V822.5H562.2zM565.6 812.3H569.0V819.1H565.6zM569.0 808.9H572.4V812.3H569.0zM572.4 802.2H575.8V808.9H572.4zM575.8 798.8H579.2V802.2H575.8zM579.2 792.0H582.6V798.8H579.2zM582.6 788.6H586.0V792.0H582.6zM586.0 781.8H589.4V788.6H586.0zM589.4 775.0H592.7V781.8H589.4zM592.7 771.7H596.1V775.0H592.7zM596.1 764.9H599.5V771.7H596.1zM599.5 761.5H602.9V764.9H599.5zM602.9 754.7H606.3V761.5H602.9zM606.3 751.3H609.7V754.7H606.3zM609.7 744.5H613.1V751.3H609.7zM613.1 741.2H616.5V744.5H613.1zM616.5 734.4H619.9V741.2H616.5zM619.9 731.0H623.3V734.4H619.9zM623.3 724.2H626.7V731.0H623.3zM626.7 720.8H630.1V724.2H626.7zM630.1 714.0H633.5V720.8H630.1zM633.5 710.7H636.9V714.0H633.5zM636.9 703.9H640.2V710.7H636.9zM640.2 700.5H643.6V703.9H640.2zM643.6 693.7H647.0V700.5H643.6zM647.0 690.3H650.4V693.7H647.0zM650.4 683.6H653.8V690.3H650.4zM653.8 680.2H657.2V683.6H653.8zM657.2 673.4H660.6V680.2H657.2zM660.6 670.0H664.0V673.4H660.6zM664.0 663.2H667.4V670.0H664.0zM667.4 659.8H670.8V663.2H667.4zM670.8 656.4H674.2V659.8H670.8zM674.2 649.7H677.6V656.4H674.2zM677.6 646.3H681.0V649.7H677.6zM681.0 639.5H684.3V646.3H681.0zM684.3 636.1H687.7V639.5H684.3zM687.7 632.7H691.1V636.1H687.7zM691.1 625.9H694.5V632.7H691.1zM694.5 622.6H697.9V625.9H694.5zM697.9 619.2H701.3V622.6H697.9zM701.3 612.4H704.7V619.2H701.3zM704.7 609.0H708.1V612.4H704.7zM708.1 605.6H711.5V609.0H708.1zM711.5 598.8H714.9V605.6H711.5zM714.9 595.4H718.3V598.8H714.9zM718.3 592.1H721.7V595.4H718.3zM721.7 588.7H725.1V592.1H721.7zM725.1 581.9H728.5V588.7H725.1zM728.5 578.5H731.8V581.9H728.5zM731.8 575.1H735.2V578.5H731.8zM735.2 571.7H738.6V575.1H735.2zM738.6 568.3H742.0V571.7H738.6zM742.0 561.6H745.4V568.3H742.0zM745.4 558.2H748.8V561.6H745.4zM748.8 554.8H752.2V558.2H748.8zM752.2 551.4H755.6V554.8H752.2zM755.6 548.0H759.0V551.4H755.6zM759.0 544.6H762.4V548.0H759.0zM762.4 541.2H765.8V544.6H762.4zM765.8 537.8H769.2V541.2H765.8zM769.2 534.5H772.6V537.8H769.2zM772.6 531.1H776.0V534.5H772.6zM776.0 527.7H779.3V531.1H776.0zM779.3 524.3H782.7V527.7H779.3zM782.7 520.9H786.1V524.3H782.7zM786.1 517.5H789.5V520.9H786.1zM789.5 514.1H792.9V517.5H789.5zM792.9 510.7H796.3V514.1H792.9zM796.3 507.3H799.7V510.7H796.3zM799.7 504.0H803.1V507.3H799.7zM803.1 500.6H806.5V504.0H803.1zM806.5 497.2H809.9V500.6H806.5zM809.9 493.8H813.3V497.2H809.9zM813.3 490.4H820.1V493.8H813.3zM820.1 487.0H823.4V490.4H820.1zM823.4 483.6H830.2V487.0H823.4zM830.2 480.2H837.0V483.6H830.2zM837.0 476.8H840.4V480.2H837.0zM840.4 473.5H847.2V476.8H840.4zM847.2 470.1H857.4V473.5H847.2zM857.4 466.7H864.2V470.1H857.4zM864.2 463.3H877.7V466.7H864.2zM877.7 459.9H925.2V463.3H877.7zM925.2 463.3H935.4V466.7H925.2zM935.4 466.7H945.6V470.1H935.4zM945.6 470.1H952.4V473.5H945.6zM952.4 473.5H959.2V476.8H952.4zM959.2 476.8H962.5V480.2H959.2zM962.5 480.2H969.3V483.6H962.5zM969.3 483.6H972.7V487.0H969.3zM972.7 487.0H976.1V490.4H972.7zM976.1 490.4H979.5V493.8H976.1zM979.5 493.8H982.9V497.2H979.5zM982.9 497.2H986.3V500.6H982.9zM986.3 500.6H989.7V504.0H986.3zM989.7 504.0H993.1V507.3H989.7zM993.1 507.3H996.5V510.7H993.1zM996.5 510.7H999.9V514.1H996.5zM999.9 514.1H1003.3V517.5H999.9zM1003.3 517.5H1006.6V520.9H1003.3zM1006.6 520.9H1010.0V524.3H1006.6zM1010.0 524.3H1013.4V527.7H1010.0zM1013.4 527.7H1016.8V531.1H1013.4zM1016.8 531.1H1020.2V534.5H1016.8zM1020.2 534.5H1023.6V541.2H1020.2zM1023.6 541.2H1027.0V544.6H1023.6zM1027.0 544.6H1030.4V551.4H1027.0zM1030.4 551.4H1033.8V554.8H1030.4zM1033.8 554.8H1037.2V561.6H1033.8zM1037.2 561.6H1040.6V568.3H1037.2zM1040.6 568.3H1044.0V571.7H1040.6zM1044.0 571.7H1047.4V578.5H1044.0zM1047.4 578.5H1050.8V585.3H1047.4zM1050.8 585.3H1054.1V592.1H1050.8zM1054.1 592.1H1057.5V598.8H1054.1zM1057.5 598.8H1060.9V605.6H1057.5zM1060.9 605.6H1064.3V612.4H1060.9zM1064.3 612.4H1067.7V619.2H1064.3zM1067.7 619.2H1071.1V625.9H1067.7zM1071.1 625.9H1074.5V632.7H1071.1zM1074.5 632.7H1077.9V639.5H1074.5zM1077.9 639.5H1081.3V649.7H1077.9zM1081.3 649.7H1084.7V656.4H1081.3zM1084.7 656.4H1088.1V666.6H1084.7zM1088.1 666.6H1091.5V673.4H1088.1zM1091.5 673.4H1094.9V680.2H1091.5zM1094.9 680.2H1098.2V690.3H1094.9zM1098.2 690.3H1101.6V700.5H1098.2zM1101.6 700.5H1105.0V707.3H1101.6zM1105.0 707.3H1108.4V717.4H1105.0zM1108.4 717.4H1111.8V727.6H1108.4zM1111.8 727.6H1115.2V737.8H1111.8zM1115.2 737.8H1118.6V747.9H1115.2zM1118.6 747.9H1122.0V758.1H1118.6zM1122.0 758.1H1125.4V768.3H1122.0zM1125.4 768.3H1128.8V778.4H1125.4zM1128.8 778.4H1132.2V788.6H1128.8zM1132.2 788.6H1135.6V798.8H1132.2zM1135.6 798.8H1139.0V812.3H1135.6zM1139.0 812.3H1142.4V822.5H1139.0zM1142.4 822.5H1145.7V832.6H1142.4zM1145.7 832.6H1149.1V846.2H1145.7zM1149.1 846.2H1152.5V859.8H1149.1zM1152.5 859.8H1155.9V869.9H1152.5zM1155.9 869.9H1159.3V883.5H1155.9zM1159.3 883.5H1162.7V897.0H1159.3zM1162.7 897.0H1166.1V907.2H1162.7zM1166.1 907.2H1169.5V920.8H1166.1zM1169.5 920.8H1172.9V934.3H1169.5zM1172.9 934.3H1176.3V947.9H1172.9zM1176.3 947.9H1179.7V961.4H1176.3zM1179.7 961.4H1183.1V975.0H1179.7zM1183.1 975.0H1186.5V991.9H1183.1zM1186.5 991.9H1189.9V1005.5H1186.5zM1189.9 1005.5H1193.2V1019.0H1189.9zM1193.2 1019.0H1196.6V1036.0H1193.2zM1196.6 1036.0H1200.0V1049.5H1196.6zM1200.0 1049.5H1203.4V1066.5H1200.0zM1203.4 1066.5H1206.8V1080.0H1203.4zM1206.8 1080.0H1210.2V1097.0H1206.8zM1210.2 1097.0H1213.6V1113.9H1210.2zM1213.6 1113.9H1217.0V1130.8H1213.6zM1217.0 1130.8H1220.4V1147.8H1217.0zM1220.4 1147.8H1223.8V1164.7H1220.4zM1223.8 1164.7H1227.2V1181.7H1223.8zM1227.2 1181.7H1230.6V1198.6H1227.2zM1230.6 1198.6H1234.0V1205.4H1230.6z"/>
<path fill="#0000ff" d="M199.2 1198.6H209.4V1202.0H199.2zM209.4 1195.2H219.6V1198.6H209.4zM219.6 1191.8H229.7V1195.2H219.6zM229.7 1188.5H236.5V1191.8H229.7zM236.5 1185.1H243.3V1188.5H236.5zM243.3 1181.7H250.1V1185.1H243.3zM250.1 1178.3H256.9V1181.7H250.1zM256.9 1174.9H260.3V1178.3H256.9zM260.3 1171.5H267.1V1174.9H260.3zM267.1 1168.1H270.4V1171.5H267.1zM270.4 1164.7H277.2V1168.1H270.4zM277.2 1161.3H280.6V1164.7H277.2zM280.6 1158.0H284.0V1161.3H280.6zM284.0 1154.6H287.4V1158.0H284.0zM287.4 1151.2H294.2V1154.6H287.4zM294.2 1147.8H297.6V1151.2H294.2zM297.6 1144.4H301.0V1147.8H297.6zM301.0 1141.0H304.4V1144.4H301.0zM304.4 1137.6H307.8V1141.0H304.4zM307.8 1134.2H311.2V1137.6H307.8zM311.2 1130.8H314.6V1134.2H311.2zM314.6 1127.5H317.9V1130.8H314.6zM317.9 1124.1H321.3V1127.5H317.9zM321.3 1120.7H324.7V1124.1H321.3zM324.7 1117.3H328.1V1120.7H324.7zM328.1 1113.9H331.5V1117.3H328.1zM331.5 1110.5H334.9V1113.9H331.5zM334.9 1107.1H338.3V1110.5H334.9zM338.3 1103.7H341.7V1107.1H338.3zM341.7 1100.3H345.1V1103.7H341.7zM345.1 1097.0H348.5V1100.3H345.1zM348.5 1093.6H351.9V1097.0H348.5zM351.9 1090.2H355.3V1093.6H351.9zM355.3 1086.8H358.7V1090.2H355.3zM358.7 1083.4H362.0V1086.8H358.7zM362.0 1080.0H365.4V1083.4H362.0zM365.4 1076.6H368.8V1080.0H365.4zM368.8 1069.9H372.2V1076.6H368.8zM372.2 1066.5H375.6V1069.9H372.2zM375.6 1063.1H379.0V1066.5H375.6zM379.0 1059.7H382.4V1063.1H379.0zM382.4 1052.9H385.8V1059.7H382.4zM385.8 1049.5H389.2V1052.9H385.8zM389.2 1046.1H392.6V1049.5H389.2zM392.6 1039.4H396.0V1046.1H392.6zM396.0 1036.0H399.4V1039.4H396.0zM399.4 1029.2H402.8V1036.0H399.4zM402.8 1025.8H406.2V1029.2H402.8zM406.2 1022.4H409.5V1025.8H406.2zM409.5 1015.6H412.9V1022.4H409.5zM412.9 1012.2H416.3V1015.6H412.9zM416.3 1005.5H419.7V1012.2H416.3zM419.7 1002.1H423.1V1005.5H419.7zM423.1 995.3H426.5V1002.1H423.1zM426.5 991.9H429.9V995.3H426.5zM429.9 985.1H433.3V991.9H429.9zM433.3 981.7H436.7V985.1H433.3zM436.7 975.0H440.1V981.7H436.7zM440.1 971.6H443.5V975.0H440.1zM443.5 964.8H446.9V971.6H443.5zM446.9 961.4H450.3V964.8H446.9zM450.3 954.6H453.7V961.4H450.3zM453.7 947.9H457.0V954.6H453.7zM457.0 944.5H460.4V947.9H457.0zM460.4 937.7H463.8V944.5H460.4zM463.8 930.9H467.2V937.7H463.8zM467.2 927.5H470.6V930.9H467.2zM470.6 920.8H474.0V927.5H470.6zM474.0 914.0H477.4V920.8H474.0zM477.4 910.6H480.8V914.0H477.4zM480.8 903.8H484.2V910.6H480.8zM484.2 897.0H487.6V903.8H484.2zM487.6 893.6H491.0V897.0H487.6zM491.0 886.9H494.4V893.6H491.0zM494.4 880.1H497.8V886.9H494.4zM497.8 876.7H501.1V880.1H497.8zM501.1 869.9H504.5V876.7H501.1zM504.5 863.1H507.9V869.9H504.5zM507.9 856.4H511.3V863.1H507.9zM511.3 853.0H514.7V856.4H511.3zM514.7 846.2H518.1V853.0H514.7zM518.1 839.4H521.5V846.2H518.1zM521.5 832.6H524.9V839.4H521.5zM524.9 825.9H528.3V832.6H524.9zM528.3 822.5H531.7V825.9H528.3zM531.7 815.7H535.1V822.5H531.7zM535.1 808.9H538.5V815.7H535.1zM538.5 802.2H541.9V808.9H538.5zM541.9 795.4H545.3V802.2H541.9zM545.3 792.0H548.6V795.4H545.3zM548.6 785.2H552.0V792.0H548.6zM552.0 778.4H555.4V785.2H552.0zM555.4 771.7H558.8V778.4H555.4zM558.8 764.9H562.2V771.7H558.8zM562.2 758.1H565.6V764.9H562.2zM565.6 751.3H569.0V758.1H565.6zM569.0 747.9H572.4V751.3H569.0zM572.4 741.2H575.8V747.9H572.4zM575.8 734.4H579.2V741.2H575.8zM579.2 727.6H582.6V734.4H579.2zM582.6 720.8H586.0V727.6H582.6zM586.0 714.0H589.4V720.8H586.0zM589.4 707.3H592.7V714.0H589.4zM592.7 703.9H596.1V707.3H592.7zM596.1 697.1H599.5V703.9H596.1zM599.5 690.3H602.9V697.1H599.5zM602.9 683.6H606.3V690.3H602.9zM606.3 676.8H609.7V683.6H606.3zM609.7 670.0H613.1V676.8H609.7zM613.1 663.2H616.5V670.0H613.1zM616.5 656.4H619.9V663.2H616.5zM619.9 653.1H623.3V656.4H619.9zM623.3 646.3H626.7V653.1H623.3zM626.7 639.5H630.1V646.3H626.7zM630.1 632.7H633.5V639.5H630.1zM633.5 625.9H636.9V632.7H633.5zM636.9 619.2H640.2V625.9H636.9zM640.2 612.4H643.6V619.2H640.2zM643.6 609.0H647.0V612.4H643.6zM647.0 602.2H650.4V609.0H647.0zM650.4 595.4H653.8V602.2H650.4zM653.8 588.7H657.2V595.4H653.8zM657.2 581.9H660.6V588.7H657.2zM660.6 575.1H664.0V581.9H660.6zM664.0 568.3H667.4V575.1H664.0zM667.4 564.9H670.8V568.3H667.4zM670.8 558.2H674.2V564.9H670.8zM674.2 551.4H677.6V558.2H674.2zM677.6 544.6H681.0V551.4H677.6zM681.0 537.8H684.3V544.6H681.0zM684.3 534.5H687.7V537.8H684.3zM687.7 527.7H691.1V534.5H687.7zM691.1 520.9H694.5V527.7H691.1zM694.5 514.1H697.9V520.9H694.5zM697.9 507.3H701.3V514.1H697.9zM701.3 504.0H704.7V507.3H701.3zM704.7 497.2H708.1V504.0H704.7zM708.1 490.4H711.5V497.2H708.1zM711.5 483.6H714.9V490.4H711.5zM714.9 480.2H718.3V483.6H714.9zM718.3 473.5H721.7V480.2H718.3zM721.7 466.7H725.1V473.5H721.7zM725.1 463.3H728.5V466.7H725.1zM728.5 456.5H731.8V463.3H728.5zM731.8 449.7H735.2V456.5H731.8zM735.2 446.3H738.6V449.7H735.2zM738.6 439.6H742.0V446.3H738.6zM742.0 432.8H745.4V439.6H742.0zM745.4 429.4H748.8V432.8H745.4zM748.8 422.6H752.2V429.4H748.8zM752.2 415.9H755.6V422.6H752.2zM755.6 412.5H759.0V415.9H755.6zM759.0 405.7H762.4V412.5H759.0zM762.4 402.3H765.8V405.7H762.4zM765.8 395.5H769.2V402.3H765.8zM769.2 392.1H772.6V395.5H769.2zM772.6 385.4H776.0V392.1H772.6zM776.0 382.0H779.3V385.4H776.0zM779.3 375.2H782.7V382.0H779.3zM782.7 371.8H786.1V375.2H782.7zM786.1 365.0H789.5V371.8H786.1zM789.5 361.6H792.9V365.0H789.5zM792.9 354.9H796.3V361.6H792.9zM796.3 351.5H799.7V354.9H796.3zM799.7 348.1H803.1V351.5H799.7zM803.1 341.3H806.5V348.1H803.1zM806.5 337.9H809.9V341.3H806.5zM809.9 334.5H813.3V337.9H809.9zM813.3 327.7H816.7V334.5H813.3zM816.7 324.4H820.1V327.7H816.7zM820.1 321.0H823.4V324.4H820.1zM823.4 314.2H826.8V321.0H823.4zM826.8 310.8H830.2V314.2H826.8zM830.2 307.4H833.6V310.8H830.2zM833.6 304.0H837.0V307.4H833.6zM837.0 300.6H840.4V304.0H837.0zM840.4 297.3H843.8V300.6H840.4zM843.8 290.5H847.2V297.3H843.8zM847.2 287.1H850.6V290.5H847.2zM850.6 283.7H854.0V287.1H850.6zM854.0 280.3H857.4V283.7H854.0zM857.4 276.9H860.8V280.3H857.4zM860.8 273.5H864.2V276.9H860.8zM864.2 270.1H867.6V273.5H864.2zM867.6 266.8H870.9V270.1H867.6zM870.9 263.4H874.3V266.8H870.9zM874.3 260.0H877.7V263.4H874.3zM877.7 256.6H881.1V260.0H877.7zM881.1 253.2H884.5V256.6H881.1zM884.5 249.8H887.9V253.2H884.5zM887.9 246.4H891.3V249.8H887.9zM891.3 243.0H898.1V246.4H891.3zM898.1 239.6H901.5V243.0H898.1zM901.5 236.3H908.3V239.6H901.5zM908.3 232.9H911.7V236.3H908.3zM911.7 229.5H918.4V232.9H911.7zM918.4 226.1H925.2V229.5H918.4zM925.2 222.7H932.0V226.1H925.2zM932.0 219.3H942.2V222.7H932.0zM942.2 215.9H959.2V219.3H942.2zM959.2 212.5H986.3V215.9H959.2zM986.3 215.9H999.9V219.3H986.3zM999.9 219.3H1010.0V222.7H999.9zM1010.0 222.7H1016.8V226.1H1010.0zM1016.8 226.1H1023.6V229.5H1016.8zM1023.6 229.5H1027.0V232.9H1023.6zM1027.0 232.9H1033.8V236.3H1027.0zM1033.8 236.3H1037.2V239.6H1033.8zM1037.2 239.6H1040.6V243.0H1037.2zM1040.6 243.0H1044.0V246.4H1040.6zM1044.0 246.4H1047.4V249.8H1044.0zM1047.4 249.8H1054.1V253.2H1047.4zM1054.1 253.2H1057.5V256.6H1054.1zM1057.5 256.6H1060.9V260.0H1057.5zM1060.9 260.0H1064.3V263.4H1060.9zM1064.3 263.4H1067.7V266.8H1064.3zM1067.7 266.8H1071.1V270.1H1067.7zM1071.1 270.1H1074.5V273.5H1071.1zM1074.5 273.5H1077.9V280.3H1074.5zM1077.9 280.3H1081.3V283.7H1077.9zM1081.3 283.7H1084.7V287.1H1081.3zM1084.7 287.1H1088.1V293.9H1084.7zM1088.1 293.9H1091.5V297.3H1088.1zM1091.5 297.3H1094.9V304.0H1091.5zM1094.9 304.0H1098.2V307.4H1094.9zM1098.2 307.4H1101.6V314.2H1098.2zM1101.6 314.2H1105.0V321.0H1101.6zM1105.0 321.0H1108.4V327.7H1105.0zM1108.4 327.7H1111.8V331.1H1108.4zM1111.8 331.1H1115.2V337.9H1111.8zM1115.2 337.9H1118.6V344.7H1115.2zM1118.6 344.7H1122.0V351.5H1118.6zM1122.0 351.5H1125.4V358.2H1122.0zM1125.4 358.2H1128.8V365.0H1125.4zM1128.8 365.0H1132.2V371.8H1128.8zM1132.2 371.8H1135.6V382.0H1132.2zM1135.6 382.0H1139.0V388.7H1135.6zM1139.0 388.7H1142.4V395.5H1139.0zM1142.4 395.5H1145.7V405.7H1142.4zM1145.7 405.7H1149.1V412.5H1145.7zM1149.1 412.5H1152.5V422.6H1149.1zM1152.5 422.6H1155.9V429.4H1152.5zM1155.9 429.4H1159.3V439.6H1155.9zM1159.3 439.6H1162.7V446.3H1159.3zM1162.7 446.3H1166.1V456.5H1162.7zM1166.1 456.5H1169.5V466.7H1166.1zM1169.5 466.7H1172.9V476.8H1169.5zM1172.9 476.8H1176.3V487.0H1172.9zM1176.3 487.0H1179.7V497.2H1176.3zM1179.7 497.2H1183.1V507.3H1179.7zM1183.1 507.3H1186.5V517.5H1183.1zM1186.5 517.5H1189.9V527.7H1186.5zM1189.9 527.7H1193.2V537.8H1189.9zM1193.2 537.8H1196.6V548.0H1193.2zM1196.6 548.0H1200.0V561.6H1196.6zM1200.0 561.6H1203.4V571.7H1200.0zM1203.4 571.7H1206.8V585.3H1203.4zM1206.8 585.3H1210.2V595.4H1206.8zM1210.2 595.4H1213.6V609.0H1210.2zM1213.6 609.0H1217.0V619.2H1213.6zM1217.0 619.2H1220.4V632.7H1217.0zM1220.4 632.7H1223.8V646.3H1220.4zM1223.8 646.3H1227.2V659.8H1223.8zM1227.2 659.8H1230.6V673.4H1227.2zM1230.6 673.4H1234.0V686.9H1230.6zM1234.0 686.9H1237.3V700.5H1234.0zM1237.3 700.5H1240.7V714.0H1237.3zM1240.7 714.0H1244.1V727.6H1240.7zM1244.1 727.6H1247.5V744.5H1244.1zM1247.5 744.5H1250.9V758.1H1247.5zM1250.9 758.1H1254.3V771.7H1250.9zM1254.3 771.7H1257.7V788.6H1254.3zM1257.7 788.6H1261.1V805.5H1257.7zM1261.1 805.5H1264.5V819.1H1261.1zM1264.5 819.1H1267.9V836.0H1264.5zM1267.9 836.0H1271.3V853.0H1267.9zM1271.3 853.0H1274.7V869.9H1271.3zM1274.7 869.9H1278.1V886.9H1274.7zM1278.1 886.9H1281.5V903.8H1278.1zM1281.5 903.8H1284.8V920.8H1281.5zM1284.8 920.8H1288.2V937.7H1284.8zM1288.2 937.7H1291.6V954.6H1288.2zM1291.6 954.6H1295.0V975.0H1291.6zM1295.0 975.0H1298.4V991.9H1295.0zM1298.4 991.9H1301.8V1012.2H1298.4zM1301.8 1012.2H1305.2V1029.2H1301.8zM1305.2 1029.2H1308.6V1049.5H1305.2zM1308.6 1049.5H1312.0V1069.9H1308.6zM1312.0 1069.9H1315.4V1086.8H1312.0zM1315.4 1086.8H1318.8V1107.1H1315.4zM1318.8 1107.1H1322.2V1127.5H1318.8zM1322.2 1127.5H1325.6V1147.8H1322.2zM1325.6 1147.8H1328.9V1168.1H1325.6zM1328.9 1168.1H1332.3V1191.8H1328.9zM1332.3 1191.8H1335.7V1205.4H1332.3z"/>
</g>
<g filter="url(#bt)">
<text class="s" text-anchor="end" dx="0 -3.5" transform="translate(183.6 57.3) scale(0.975 1)">8000</text>
<text class="s" text-anchor="end" transform="translate(183.6 199.1) scale(0.975 1)">7000</text>
<text class="s" text-anchor="end" dx="0 -3.5" transform="translate(183.6 344.5) scale(0.975 1)">6000</text>
<text class="s" text-anchor="end" dx="0 -3.5" transform="translate(183.6 490.4) scale(0.975 1)">5000</text>
<text class="s" text-anchor="end" dx="0 -1" transform="translate(183.6 636.3) scale(0.975 1)">4000</text>
<text class="s" text-anchor="end" dx="0 0.5" transform="translate(183.6 778.7) scale(0.975 1)">3000</text>
<text class="s" text-anchor="end" transform="translate(183.6 924.2) scale(0.975 1)">2000</text>
<text class="s" text-anchor="end" dx="0 -1" transform="translate(183.6 1070.1) scale(0.975 1)">1000</text>
<text class="s" text-anchor="end" transform="translate(183.6 1215.7) scale(0.975 1)">0</text>
<text class="s" x="199.2" y="1253.9" text-anchor="middle">0</text>
<text class="s" x="493.6" y="1253.9" text-anchor="middle">5</text>
<text class="s" x="785.3" y="1253.9" text-anchor="middle">10</text>
<text class="s" x="1081.6" y="1253.9" text-anchor="middle">15</text>
<text class="s" x="1374.1" y="1253.9" text-anchor="middle">20</text>
<text class="s" x="1671.4" y="1253.9" text-anchor="middle">25</text>
<text class="s" x="792.9" y="1310.6" text-anchor="start" textLength="275.6" lengthAdjust="spacingAndGlyphs">omega,[rad/s]</text>
<text class="s" text-anchor="middle" textLength="130.0" lengthAdjust="spacingAndGlyphs" transform="translate(60.3 629.6) rotate(-90)">P, [W]</text>
<text class="r" x="599.9" y="1182.1" text-anchor="start" textLength="26.0" lengthAdjust="spacingAndGlyphs">4</text>
<text class="r" x="688.2" y="1145.1" text-anchor="start" textLength="26.0" lengthAdjust="spacingAndGlyphs">5</text>
<text class="r" x="813.9" y="1164.7" text-anchor="start" textLength="26.0" lengthAdjust="spacingAndGlyphs">6</text>
<text class="r" x="836.4" y="1008.9" text-anchor="start" textLength="30.2" lengthAdjust="spacingAndGlyphs">7</text>
<text class="r" x="965.7" y="1002.9" text-anchor="start" textLength="26.0" lengthAdjust="spacingAndGlyphs">8</text>
<text class="r" x="1024.4" y="839.5" text-anchor="start" textLength="26.0" lengthAdjust="spacingAndGlyphs">9</text>
<text class="r" x="1119.6" y="711.4" text-anchor="start" textLength="52.1" lengthAdjust="spacingAndGlyphs">10</text>
<text class="r" x="1255.1" y="701.4" text-anchor="start" textLength="50.1" lengthAdjust="spacingAndGlyphs">11</text>
<text class="r" x="1455.8 1481.5 1494 1507.2 1547.5 1559.3" y="273.1" text-anchor="start" style="stroke-width:0.9px;font-size:54.5px">v, m/s</text>
</g>
</svg></body></html>
